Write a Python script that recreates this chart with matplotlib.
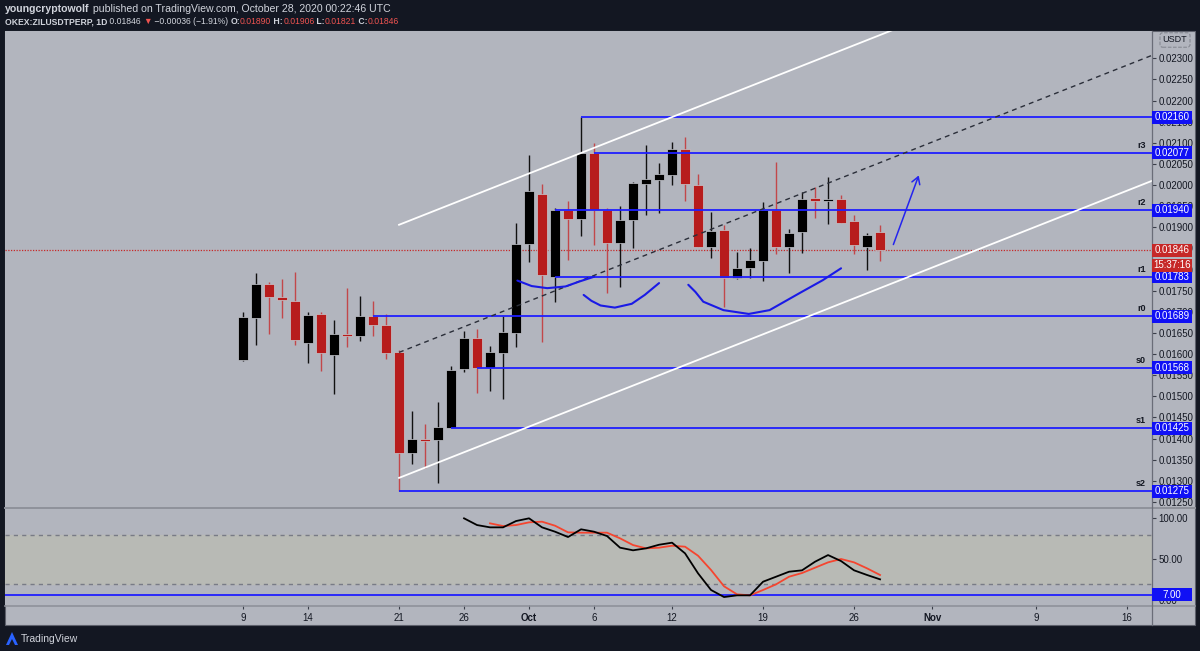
import matplotlib
matplotlib.use('Agg')
import matplotlib.pyplot as plt
import matplotlib.dates as mdates
from matplotlib.patches import Rectangle, Polygon, FancyArrowPatch
from matplotlib.lines import Line2D
from matplotlib.text import Annotation
from matplotlib.ticker import FormatStrFormatter
import numpy as np
import pandas as pd

plt.rcParams['font.family'] = ['Liberation Sans', 'DejaVu Sans']

# ---------------- data ----------------
dates = pd.date_range('2020-09-09', '2020-10-28', freq='D')
opens = [0.01586, 0.01686, 0.01766, 0.01734, 0.01726, 0.01626, 0.01696, 0.01598, 0.01647, 0.01642,
         0.01689, 0.01670, 0.01604, 0.01365, 0.01397, 0.01397, 0.01425, 0.01564, 0.01639, 0.01568,
         0.01602, 0.01649, 0.01861, 0.01979, 0.01783, 0.01940, 0.01920, 0.02077, 0.01940, 0.01864,
         0.01917, 0.02002, 0.02012, 0.02024, 0.02085, 0.02000, 0.01853, 0.01894, 0.01779, 0.01803,
         0.01820, 0.01940, 0.01854, 0.01889, 0.01970, 0.01962, 0.01967, 0.01915, 0.01853, 0.01890]
highs = [0.01700, 0.01791, 0.01771, 0.01778, 0.01794, 0.01700, 0.01700, 0.01680, 0.01756, 0.01738,
         0.01726, 0.01695, 0.01610, 0.01465, 0.01435, 0.01486, 0.01572, 0.01655, 0.01659, 0.01619,
         0.01691, 0.01910, 0.02071, 0.02003, 0.01946, 0.01962, 0.02160, 0.02099, 0.01946, 0.01951,
         0.02008, 0.02095, 0.02053, 0.02101, 0.02113, 0.02026, 0.01937, 0.01906, 0.01841, 0.01850,
         0.01959, 0.02054, 0.01895, 0.01984, 0.01996, 0.02018, 0.01976, 0.01929, 0.01886, 0.01906]
lows = [0.01584, 0.01622, 0.01648, 0.01685, 0.01622, 0.01579, 0.01560, 0.01506, 0.01616, 0.01631,
        0.01642, 0.01588, 0.01275, 0.01339, 0.01330, 0.01295, 0.01425, 0.01558, 0.01509, 0.01513,
        0.01493, 0.01616, 0.01817, 0.01629, 0.01724, 0.01823, 0.01880, 0.01857, 0.01745, 0.01758,
        0.01850, 0.01929, 0.01933, 0.02000, 0.01963, 0.01854, 0.01827, 0.01712, 0.01777, 0.01781,
        0.01773, 0.01836, 0.01791, 0.01839, 0.01923, 0.01907, 0.01911, 0.01836, 0.01799, 0.01821]
closes = [0.01688, 0.01766, 0.01734, 0.01727, 0.01633, 0.01693, 0.01602, 0.01647, 0.01642, 0.01691,
          0.01669, 0.01603, 0.01366, 0.01398, 0.01394, 0.01427, 0.01562, 0.01639, 0.01568, 0.01604,
          0.01652, 0.01860, 0.01986, 0.01787, 0.01940, 0.01920, 0.02077, 0.01941, 0.01864, 0.01917,
          0.02004, 0.02014, 0.02026, 0.02086, 0.02003, 0.01854, 0.01891, 0.01779, 0.01803, 0.01823,
          0.01941, 0.01854, 0.01887, 0.01967, 0.01962, 0.01967, 0.01911, 0.01858, 0.01882, 0.01846]

stoch_k_start = '2020-09-26'
stoch_k = [100.0, 91.8, 89.0, 89.0, 96.7, 100.0, 89.0, 83.7, 77.2, 86.6, 83.7, 78.4, 64.2, 61.0,
           63.4, 67.8, 70.3, 57.3, 32.9, 12.6, 4.0, 6.1, 6.1, 22.7, 28.8, 34.9, 36.6, 47.1, 55.2,
           47.9, 36.6, 30.9, 25.6]
stoch_d_start = '2020-09-28'
stoch_d = [93.9, 90.6, 91.8, 95.1, 95.9, 91.0, 82.9, 82.5, 82.5, 82.5, 75.6, 67.4, 63.4, 64.2,
           66.6, 65.4, 54.4, 37.0, 17.1, 7.3, 6.1, 12.6, 19.5, 28.8, 33.3, 39.8, 46.3, 50.4, 46.3,
           39.0, 30.9]
stoch_level = 7.00
stoch_bands = [20, 80]

levels = [0.02160, 0.02077, 0.01940, 0.01783, 0.01689, 0.01568, 0.01425, 0.01275]
level_start = ['2020-10-05', '2020-10-06', '2020-10-03', '2020-10-03', '2020-09-19',
               '2020-09-27', '2020-09-25', '2020-09-21']
level_tags = ['', 'r3', 'r2', 'r1', 'r0', 's0', 's1', 's2']

last_price = 0.01846
countdown = '15:37:16'

price_ticks = [0.01250, 0.01300, 0.01350, 0.01400, 0.01450, 0.01500, 0.01550, 0.01600, 0.01650,
               0.01700, 0.01750, 0.01800, 0.01850, 0.01900, 0.01950, 0.02000, 0.02050, 0.02100,
               0.02150, 0.02200, 0.02250, 0.02300]
stoch_ticks = [0, 50, 100]
time_tick_dates = ['2020-09-09', '2020-09-14', '2020-09-21', '2020-09-26', '2020-10-01', '2020-10-06',
                   '2020-10-12', '2020-10-19', '2020-10-26', '2020-11-01', '2020-11-09', '2020-11-16']
time_tick_labels = ['9', '14', '21', '26', 'Oct', '6', '12', '19', '26', 'Nov', '9', '16']

# hand drawings (date, price)
channel_lower = [('2020-09-21', 0.01307), ('2020-11-18', 0.02011)]
channel_upper = [('2020-09-21', 0.01906), ('2020-11-18', 0.02610)]
channel_mid = [('2020-09-21', 0.01604), ('2020-11-18', 0.02308)]
# curves: day offsets from 2020-09-09 and prices
curve1_days = [21.1, 22.2, 23.4, 24.8, 25.9, 27.0]
curve1_prices = [0.01774, 0.01761, 0.01756, 0.01760, 0.01772, 0.01783]
curve2_days = [26.2, 26.8, 27.5, 28.6, 29.9, 30.9, 32.0]
curve2_prices = [0.01740, 0.01726, 0.01715, 0.01710, 0.01719, 0.01740, 0.01768]
curve3_days = [34.25, 34.8, 35.4, 36.95, 38.9, 40.5, 42.85, 44.6, 46.0]
curve3_prices = [0.01764, 0.01747, 0.01724, 0.01704, 0.01695, 0.01704, 0.01745, 0.01775, 0.01803]
arrow_days = [49.95, 52.05]
arrow_prices = [0.01853, 0.02029]

# ---------------- figure ----------------
W, H = 1200, 651
BG = '#b2b5be'
DARK = '#131722'
BLUE = '#1f1fff'
RED_BODY = '#b71c1c'
fig = plt.figure(figsize=(W / 100, H / 100), dpi=100)
fig.patch.set_facecolor(DARK)

fig.add_artist(Rectangle((4.5 / W, 1 - 625 / H), (1195 - 4.5) / W, (625 - 31) / H,
                         transform=fig.transFigure, facecolor=BG, edgecolor='#5d606b', lw=0.8, zorder=-5))

x_left, x_right, x_axis = 5, 1151.5, 1151.5
main = fig.add_axes([x_left / W, 1 - 507 / H, (x_right - x_left) / W, (507 - 31) / H])
ind = fig.add_axes([x_left / W, 1 - 605 / H, (x_right - x_left) / W, (605 - 508) / H])
for a in (main, ind):
    a.set_facecolor(BG)
    for s in a.spines.values():
        s.set_visible(False)

xn = mdates.date2num(dates)
base = xn[0]
xmin, xmax = base - 18.31, base + 69.88
main.set_xlim(xmin, xmax)
ind.set_xlim(xmin, xmax)
main.set_ylim(0.012381, 0.023646)
ind.set_ylim(-5.7, 112.6)

o, h, l, c = map(np.asarray, (opens, highs, lows, closes))
up = c >= o
body_bottom = np.minimum(o, c)
body_h = np.maximum(np.abs(c - o), 0.00004)
body_cols = np.where(up, '#000000', RED_BODY)
wick_cols = np.where(up, '#111111', '#c2474a')
main.vlines(xn, l, h, colors=wick_cols, lw=1.0, zorder=3)
main.bar(xn, body_h, bottom=body_bottom, width=0.72, color=body_cols,
         edgecolor='#c8cad0', linewidth=0.5, zorder=4)

# horizontal levels
for lv, sd in zip(levels, level_start):
    main.hlines(lv, mdates.date2num(pd.Timestamp(sd)), xmax, color=BLUE, lw=1.3, zorder=5)
main.axhline(last_price, color='#c62828', lw=0.9, ls=(0, (1, 1.2)), zorder=2)

# channel
def seg(pts):
    return [mdates.date2num(pd.Timestamp(d)) for d, _ in pts], [p for _, p in pts]
for pts in (channel_lower, channel_upper):
    xs, ys = seg(pts)
    main.plot(xs, ys, color='white', lw=1.3, zorder=5)
xs, ys = seg(channel_mid)
main.plot(xs, ys, color='#2a2e39', lw=1.0, ls=(0, (3.5, 3)), zorder=5)

for dd, pp in ((curve1_days, curve1_prices), (curve2_days, curve2_prices), (curve3_days, curve3_prices)):
    main.plot(base + np.asarray(dd), pp, color='#1a1ae6', lw=1.5, zorder=6, solid_capstyle='round')
main.add_patch(FancyArrowPatch((base + arrow_days[0], arrow_prices[0]), (base + arrow_days[1], arrow_prices[1]),
                               arrowstyle='->,head_length=5,head_width=3', color='#2424ee', lw=1.1, zorder=6))

# price axis ticks
main.set_xticks([])
main.yaxis.tick_right()
main.set_yticks(price_ticks)
main.yaxis.set_major_formatter(FormatStrFormatter('%.5f'))
main.tick_params(axis='y', length=3, width=0.8, color='#3a3e49', labelsize=7, labelcolor=DARK, pad=2)

# stoch pane
ind.axhspan(stoch_bands[0], stoch_bands[1], color='#b8bab5', zorder=0)
for b in stoch_bands:
    ind.axhline(b, color='#787b86', lw=1.0, ls=(0, (3, 3)), zorder=1)
ind.axhline(stoch_level, color=BLUE, lw=1.3, zorder=2)
ind.plot(mdates.date2num(pd.date_range(stoch_k_start, periods=len(stoch_k))), stoch_k,
         color='#000000', lw=1.3, zorder=4)
ind.plot(mdates.date2num(pd.date_range(stoch_d_start, periods=len(stoch_d))), stoch_d,
         color='#f5452f', lw=1.3, zorder=3)
ind.yaxis.tick_right()
ind.set_yticks(stoch_ticks)
ind.yaxis.set_major_formatter(FormatStrFormatter('%.2f'))
ind.tick_params(axis='y', length=3, width=0.8, color='#3a3e49', labelsize=7, labelcolor=DARK, pad=2)
ind.set_xticks(mdates.date2num(pd.to_datetime(time_tick_dates)))
ind.set_xticklabels(time_tick_labels)
ind.tick_params(axis='x', length=3, width=0.8, color='#3a3e49', labelsize=7, labelcolor=DARK, pad=3)
for t in ind.get_xticklabels():
    if t.get_text() in ('Oct', 'Nov'):
        t.set_fontweight('bold')

# separators
def fline(x0, y0, x1, y1, col, lw):
    fig.add_artist(Line2D([x0 / W, x1 / W], [1 - y0 / H, 1 - y1 / H], color=col, lw=lw, zorder=8))
fline(4.5, 507.5, 1195, 507.5, '#8f929b', 1.4)
fline(4.5, 605.5, 1195, 605.5, '#8f929b', 1.2)
fline(x_axis, 31, x_axis, 625, '#6a6d78', 0.9)

# axis value boxes
def axis_box(ax, y, text, fc, dy=0.0):
    yd = ax.transData.transform((xmin, y))[1] + dy
    fig.add_artist(Rectangle(((x_axis + 0.5) / W, (yd - 6.5) / H), 40 / W, 13 / H,
                             transform=fig.transFigure, facecolor=fc, edgecolor='none', zorder=10))
    fig.text((x_axis + 20.5) / W, yd / H, text, ha='center', va='center', color='white',
             fontsize=7, zorder=11)
    return yd

for lv, tag in zip(levels, level_tags):
    yd = axis_box(main, lv, f'{lv:.5f}', '#1010f5')
    if tag:
        fig.text((x_axis - 6) / W, (yd + 3) / H, tag, ha='right', va='bottom', fontsize=6.5,
                 fontweight='bold', color=DARK, zorder=11)
axis_box(main, last_price, f'{last_price:.5f}', '#c62828')
axis_box(main, last_price, countdown, '#c62828', dy=-15)
axis_box(ind, stoch_level, f'{stoch_level:.2f}', '#1010f5')

fig.text(1175 / W, 1 - 40 / H, 'USDT', ha='center', va='center', fontsize=6.5, color=DARK,
         bbox=dict(boxstyle='round,pad=0.3', fc='none', ec='#80838c', ls='--', lw=0.7), zorder=11)

# header
def chain(pieces, y_px, size):
    first = pieces[0]
    t = fig.text(5 / W, 1 - y_px / H, first[0], color=first[1], fontweight=first[2], fontsize=size,
                 va='baseline', ha='left')
    for s, col, wt in pieces[1:]:
        a = Annotation(s, xy=(1, 0), xycoords=t, va='bottom', ha='left', color=col,
                       fontweight=wt, fontsize=size)
        fig.add_artist(a)
        t = a

TXT = '#d1d4dc'
RED = '#ef5350'
chain([('youngcryptowolf', TXT, 'bold'),
       (' published on TradingView.com, October 28, 2020 00:22:46 UTC', TXT, 'normal')], 11.5, 7.55)
chain([('OKEX:ZILUSDTPERP, 1D', TXT, 'bold'), (' 0.01846 ', TXT, 'normal'), ('\u25bc', RED, 'normal'),
       (' \u22120.00036 (\u22121.91%) ', TXT, 'normal'),
       ('O:', TXT, 'bold'), ('0.01890', RED, 'normal'),
       (' H:', TXT, 'bold'), ('0.01906', RED, 'normal'),
       (' L:', TXT, 'bold'), ('0.01821', RED, 'normal'),
       (' C:', TXT, 'bold'), ('0.01846', RED, 'normal')], 24.0, 6.2)

# TradingView logo
fig.add_artist(Polygon([(6 / W, 1 - 645 / H), (12 / W, 1 - 632 / H), (18 / W, 1 - 645 / H)],
                       closed=True, transform=fig.transFigure, facecolor='#2962ff', edgecolor='none'))
fig.add_artist(Polygon([(9 / W, 1 - 645 / H), (12 / W, 1 - 639 / H), (15 / W, 1 - 645 / H)],
                       closed=True, transform=fig.transFigure, facecolor=DARK, edgecolor='none'))
fig.text(21 / W, 1 - 638.5 / H, 'TradingView', ha='left', va='center', fontsize=7.5, color=TXT)

fig.savefig('out.png', dpi=100, facecolor=fig.get_facecolor())
